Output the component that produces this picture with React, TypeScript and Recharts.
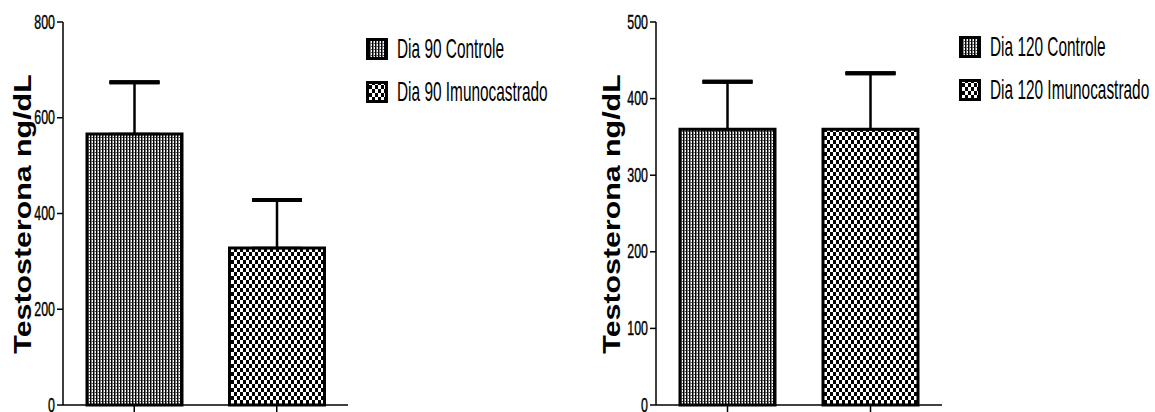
import React from 'react';
import { BarChart, Bar, XAxis, YAxis, Cell, ErrorBar, Legend } from 'recharts';

const categories90 = ['Dia 90 Controle', 'Dia 90 Imunocastrado'];
const means90 = [566, 328];
const sem90 = [108, 100];
const ticks90 = [0, 200, 400, 600, 800];

const categories120 = ['Dia 120 Controle', 'Dia 120 Imunocastrado'];
const means120 = [360, 360];
const sem120 = [62, 73];
const ticks120 = [0, 100, 200, 300, 400, 500];

const yLabel = 'Testosterona ng/dL';
const patternIds = ['patFine', 'patChecker'];

const FONT = '"Liberation Sans", Arial, sans-serif';

const buildData = (cats: string[], means: number[], sems: number[]) =>
  cats.map((c, i) => ({ name: c, value: means[i], err: [0, sems[i]], cap: [-sems[i], sems[i]] }));

const YTick = (props: any) => {
  const { x, y, payload } = props;
  return (
    <text
      transform={`translate(${x},${y}) scale(0.62,1)`}
      textAnchor="end"
      dominantBaseline="central"
      fontSize={20}
      fontFamily={FONT}
      fill="#000"
      stroke="#000"
      strokeWidth={0.4}
    >
      {payload.value}
    </text>
  );
};

const EmptyTick = () => <g />;

const makeLegend = (cats: string[]) => () => (
  <div style={{ fontFamily: FONT, color: '#000' }}>
    {cats.map((c, i) => (
      <div key={c} style={{ display: 'flex', alignItems: 'center', height: 43 }}>
        <svg width={22} height={22} style={{ flex: 'none' }}>
          <rect x={1.5} y={1.5} width={19} height={19} fill={`url(#${patternIds[i]})`} stroke="#000" strokeWidth={3} />
        </svg>
        <span
          style={{
            display: 'inline-block',
            marginLeft: 9,
            fontSize: 28,
            lineHeight: '28px',
            transform: 'scaleX(0.55)',
            transformOrigin: 'left center',
            whiteSpace: 'nowrap',
          }}
        >
          {c}
        </span>
      </div>
    ))}
  </div>
);

type PanelProps = {
  cats: string[];
  means: number[];
  sems: number[];
  ticks: number[];
  width: number;
  yAxisWidth: number;
  marginRight: number;
  labelX: number;
  legendLeft: number;
  legendTop: number;
};

const Panel = (p: PanelProps) => {
  const data = buildData(p.cats, p.means, p.sems);
  const max = p.ticks[p.ticks.length - 1];
  return (
    <BarChart
      width={p.width}
      height={412}
      data={data}
      margin={{ top: 22, right: p.marginRight, bottom: 0, left: 0 }}
      barSize={95}
    >
      <XAxis
        dataKey="name"
        height={7}
        tick={<EmptyTick />}
        tickSize={7}
        axisLine={{ stroke: '#000', strokeWidth: 1.5 }}
        tickLine={{ stroke: '#000', strokeWidth: 1.5 }}
      />
      <YAxis
        width={p.yAxisWidth}
        domain={[0, max]}
        ticks={p.ticks}
        interval={0}
        tick={<YTick />}
        tickSize={6}
        tickMargin={2}
        axisLine={{ stroke: '#000', strokeWidth: 1.5 }}
        tickLine={{ stroke: '#000', strokeWidth: 1.5 }}
        label={{
          content: () => (
            <text
              transform={`translate(${p.labelX},214) rotate(-90) scale(1.32,1)`}
              textAnchor="middle"
              dominantBaseline="central"
              fontSize={23}
              fontWeight="bold"
              fontFamily={FONT}
              fill="#000"
            >
              {yLabel}
            </text>
          ),
        }}
      />
      <Legend
        layout="vertical"
        align="center"
        verticalAlign="middle"
        content={makeLegend(p.cats)}
        wrapperStyle={{ left: p.legendLeft, top: p.legendTop, width: 220, height: 90 }}
      />
      <Bar dataKey="value" stroke="#000" strokeWidth={3} isAnimationActive={false}>
        {data.map((d, i) => (
          <Cell key={d.name} fill={`url(#${patternIds[i]})`} />
        ))}
        <ErrorBar dataKey="err" direction="y" width={25} stroke="#000" strokeWidth={2.5} isAnimationActive={false} />
        <ErrorBar dataKey="cap" direction="y" width={25} stroke="#000" strokeWidth={4} isAnimationActive={false} />
      </Bar>
    </BarChart>
  );
};

export default function App() {
  return (
    <div style={{ position: 'absolute', left: 0, top: 0, width: 1155, height: 412, background: '#fff' }}>
      <svg width={0} height={0} style={{ position: 'absolute' }}>
        <defs>
          <pattern id="patFine" width={3} height={3} patternUnits="userSpaceOnUse">
            <rect width={3} height={3} fill="#fff" />
            <rect x={0} y={0} width={1.5} height={3} fill="#000" />
            <rect x={1.5} y={2} width={1.5} height={1} fill="#555" />
          </pattern>
          <pattern id="patChecker" width={6} height={8} patternUnits="userSpaceOnUse">
            <rect width={6} height={8} fill="#fff" />
            <rect x={0} y={0} width={3} height={4} fill="#000" />
            <rect x={3} y={4} width={3} height={4} fill="#000" />
          </pattern>
        </defs>
      </svg>
      <div style={{ position: 'absolute', left: 0, top: 0 }}>
        <Panel
          cats={categories90}
          means={means90}
          sems={sem90}
          ticks={ticks90}
          width={578}
          yAxisWidth={63}
          marginRight={230}
          labelX={23}
          legendLeft={366}
          legendTop={27}
        />
      </div>
      <div style={{ position: 'absolute', left: 578, top: 0 }}>
        <Panel
          cats={categories120}
          means={means120}
          sems={sem120}
          ticks={ticks120}
          width={577}
          yAxisWidth={78}
          marginRight={213}
          labelX={34}
          legendLeft={381}
          legendTop={25}
        />
      </div>
    </div>
  );
}
